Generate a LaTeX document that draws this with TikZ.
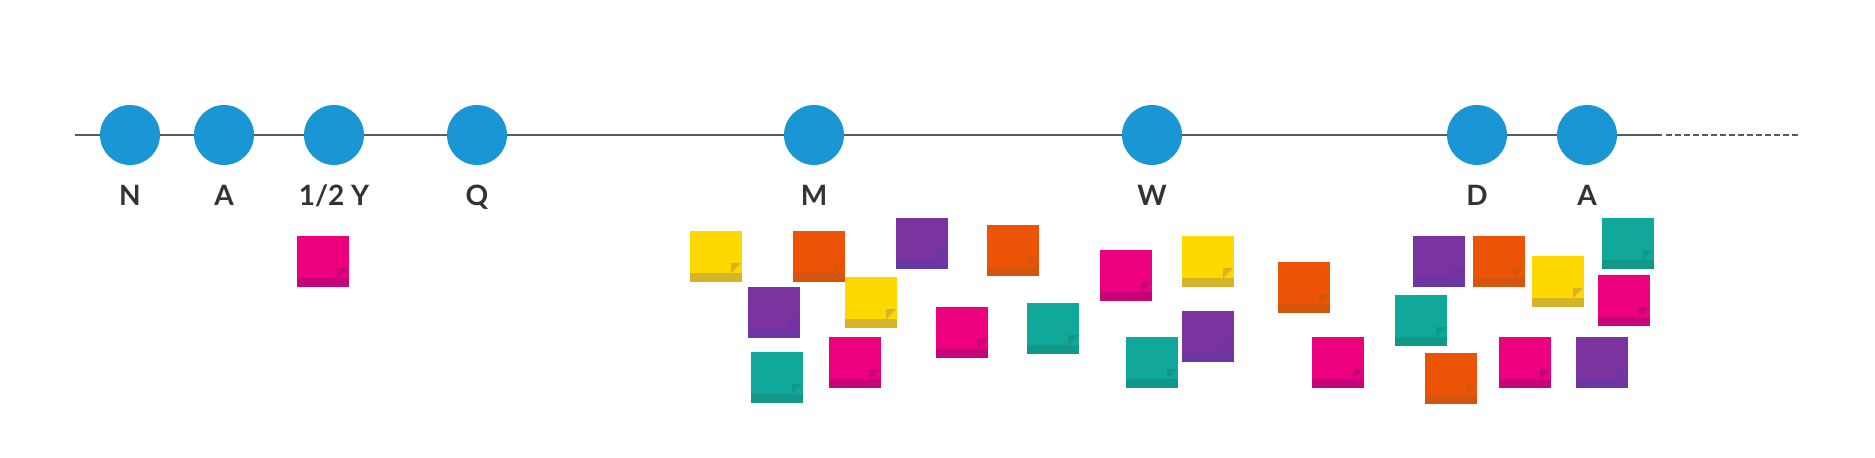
\documentclass[tikz,border=0pt]{standalone}
\usepackage{fontspec}
\setmainfont{Lato}
\usepackage{xcolor}
\usepackage{tikz}
\definecolor{dot}{HTML}{1A96D5}
\definecolor{ink}{HTML}{333333}
\definecolor{rule}{HTML}{5A5A5A}
\definecolor{yel}{HTML}{FFD800}
\definecolor{yeldk}{HTML}{D6B42A}
\definecolor{org}{HTML}{EC5306}
\definecolor{orgdk}{HTML}{D4550E}
\definecolor{pur}{HTML}{7B33A0}
\definecolor{purdk}{HTML}{6936A3}
\definecolor{pnk}{HTML}{EC007D}
\definecolor{pnkdk}{HTML}{C5047A}
\definecolor{tea}{HTML}{10A89A}
\definecolor{teadk}{HTML}{129888}

\begin{document}
\begin{tikzpicture}[x=1pt, y=-1pt,
  tline/.style={draw=rule, line width=1.8pt},
  stop/.style={circle, fill=dot, minimum size=60pt, inner sep=0pt},
  lbl/.style={font=\fontsize{28}{30}\selectfont\bfseries, text=ink, anchor=base, inner sep=0pt}]
  \useasboundingbox (0,0) rectangle (1875,458);
  % timeline
  \coordinate (start) at (75,135);
  \coordinate (solidend) at (1662,135);
  \coordinate (fade) at (1800,135);
  \draw[tline] (start) -- (solidend);
  \draw[tline, dash pattern=on 5.5pt off 3.5pt] ([xshift=4pt]solidend) -- (fade);
  \foreach \x/\t [count=\i] in {130/N, 224/A, 334/{1/2 Y}, 477/Q, 814/M, 1152/W, 1477/D, 1587/A} {
    \node[stop] (s\i) at (\x,135) {};
    \node[lbl] (l\i) at (\x,205.5) {\t};
  }
  % sticky notes
  \foreach \x/\y/\c in {297/236/pnk,
      690/231/yel, 793/231/org, 896/218/pur, 987/225/org, 748/287/pur,
      845/277/yel, 936/307/pnk, 1027/303/tea, 751/352/tea, 829/337/pnk,
      1100/250/pnk, 1182/236/yel, 1278/262/org, 1182/311/pur, 1126/337/tea, 1312/337/pnk,
      1413/236/pur, 1473/236/org, 1532/256/yel, 1602/218/tea, 1598/275/pnk,
      1395/295/tea, 1425/353/org, 1499/337/pnk, 1576/337/pur} {
    \fill[\c] (\x,\y) rectangle ++(52,51);
    \fill[\c dk] (\x,\y+42) rectangle ++(52,9);
    \fill[\c dk] (\x+41,\y+42) -- (\x+41,\y+32) -- (\x+51,\y+32) -- cycle;
  }
\end{tikzpicture}
\end{document}
